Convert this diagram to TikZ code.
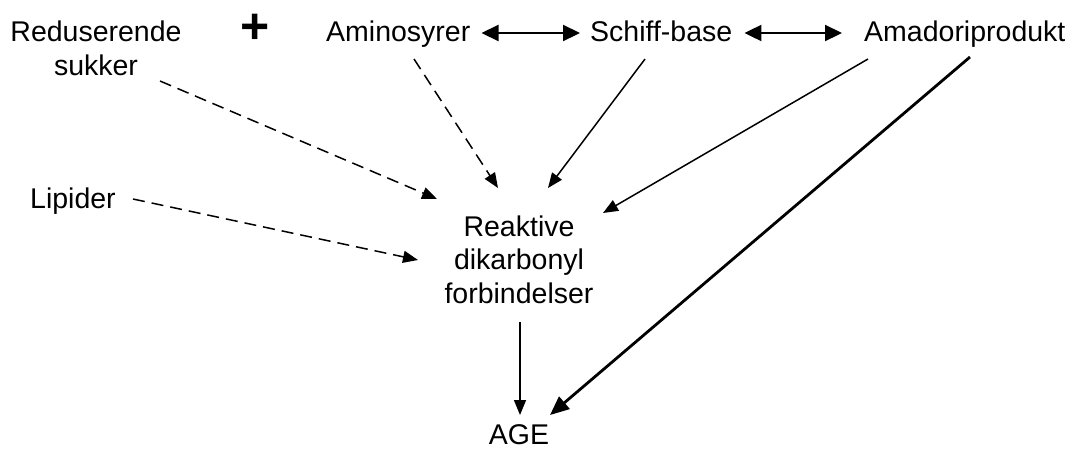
\documentclass[tikz,border=0pt]{standalone}
\usepackage{fontspec}
\setmainfont{Liberation Sans}
\usetikzlibrary{arrows.meta,calc}
\begin{document}
\begin{tikzpicture}[x=1pt,y=-1pt,
  lbl/.style={inner sep=0pt,font=\fontsize{28.5}{33.5}\selectfont,align=center},
  thin/.style={line width=1.5pt,-{Triangle[length=15pt,width=12pt]}},
  dasharrow/.style={thin,dash pattern=on 12pt off 7pt},
  bidir/.style={line width=2.2pt,{Triangle[length=17pt,width=16pt]}-{Triangle[length=17pt,width=16pt]}},
  thickarrow/.style={line width=2.8pt,-{Triangle[length=19pt,width=16pt]}}]
\useasboundingbox[fill=white] (0,0) rectangle (1070,448);
\node[lbl,anchor=base] (red) at (96,75) {Reduserende\\sukker};
\node[inner sep=0pt,font=\fontsize{50}{50}\selectfont\bfseries] (plus) at (255,29) {+};
\node[lbl,anchor=base west] (amino) at (326,41) {Aminosyrer};
\node[lbl,anchor=base west] (schiff) at (590,41) {Schiff-base};
\node[lbl,anchor=base west] (amadori) at (864,41) {Amadoriprodukt};
\node[lbl,anchor=base west] (lip) at (30,208) {Lipider};
\node[lbl,anchor=base] (rdf) at (519,303) {Reaktive\\dikarbonyl\\forbindelser};
\node[lbl,anchor=base] (age) at (519,444) {AGE};
\draw[bidir] ($(amino.base east)+(11,-8)$) -- ($(schiff.base west)+(-10,-8)$);
\draw[bidir] ($(schiff.base east)+(12,-8)$) -- ($(amadori.base west)+(-22,-8)$);
\draw[dasharrow] ($(red.base)+(64,6)$) -- ($(rdf.base)+(-82,-104)$);
\draw[dasharrow] ($(amino.base west)+(88,18)$) -- ($(rdf.base)+(-21,-115)$);
\draw[thin] ($(schiff.base west)+(55,18)$) -- ($(rdf.base)+(29,-115)$);
\draw[thin] ($(amadori.base west)+(4,18)$) -- ($(rdf.base)+(84,-90)$);
\draw[dasharrow] ($(lip.base west)+(103,-9)$) -- ($(rdf.base)+(-101,-43)$);
\draw[thin] ($(rdf.base)+(1,19)$) -- ($(age.base)+(1,-29)$);
\draw[thickarrow] ($(amadori.base west)+(106,16)$) -- ($(age.base)+(31,-29)$);
\end{tikzpicture}
\end{document}
